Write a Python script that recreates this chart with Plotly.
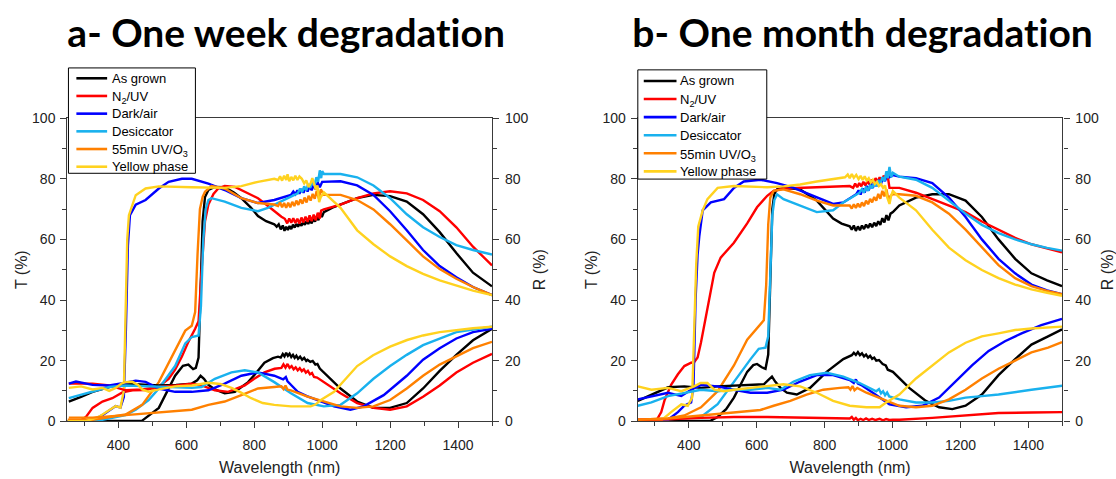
import plotly.graph_objects as go

# ---------------- DATA (wavelength nm, percent) ----------------
SERIES = ["As grown", "N<sub>2</sub>/UV", "Dark/air", "Desiccator",
          "55min UV/O<sub>3</sub>", "Yellow phase"]
TITLES = ["a- One week degradation", "b- One month degradation"]
X_TITLE = "Wavelength (nm)"
YT_TITLE = "T (%)"
YR_TITLE = "R (%)"

# ---- panel a : one week ----
a_T_asgrown = [(250,0),(470,0.2),(519,4.4),(545,10),(567,15),(590,18.3),(606,18.7),(620,17.2),(628,17.6),(636,21),(642,45),(648,66),(655,74),(665,76.3),(684,77.3),(713,77.2),(740,75.5),(762,73.6),(790,70.5),(811,67.7),(835,66),(859,65),(866,64.2),(872,65),(878,63.3),(884,64.6),(889,62.8),(894,64.2),(899,63.1),(904,64.4),(909,63.4),(914,64.9),(919,63.9),(924,65.1),(929,64.2),(934,65.4),(939,64.5),(944,65.7),(949,64.8),(954,66),(959,65.1),(964,66.4),(969,65.3),(974,66.8),(979,65.9),(984,67.6),(989,66.3),(994,68.7),(999,67.4),(1005,69),(1030,70.5),(1054,71.5),(1103,73.6),(1151,74.7),(1200,74.3),(1249,72.5),(1297,68.3),(1346,62.4),(1395,55.5),(1444,49),(1500,44.5)]
a_R_asgrown = [(254,6.5),(290,8),(324,9.7),(373,11.3),(421,12.4),(470,12),(519,11.8),(570,12),(616,12.4),(632,13.5),(642,15),(652,14),(665,12),(684,10.5),(713,9.2),(743,9.7),(782,12.9),(806,16),(830,19.3),(855,20.8),(870,21.3),(878,21),(884,22.2),(889,21.4),(894,22.6),(899,21.6),(904,22.3),(909,21.2),(914,21.9),(919,20.9),(924,21.6),(929,20.6),(935,21.3),(941,20.3),(947,20.9),(953,19.9),(957,20.3),(965,19.6),(972,19.9),(980,18.7),(986,18.9),(993,17.4),(1005,16.1),(1054,10.8),(1103,6.5),(1151,4.4),(1200,4.4),(1249,6),(1297,10.8),(1346,16.6),(1395,21.9),(1444,26.7),(1500,30.5)]
a_T_n2uv = [(250,0),(290,0.3),(305,1.5),(324,4.4),(353,6.5),(382,7.6),(412,9.5),(441,10.2),(480,10.3),(519,11.5),(548,14),(567,17),(587,21.4),(606,26.2),(626,30.5),(636,33),(645,50),(655,66),(665,71.5),(680,75),(694,76.8),(713,77.6),(743,77.3),(772,75.7),(811,73.6),(835,71.5),(859,69.3),(880,67.5),(890,66.8),(897,65.3),(903,66.9),(909,65.5),(915,67),(921,65.4),(927,66.8),(933,65.2),(939,67.2),(945,65.6),(951,67.5),(957,65.8),(963,67.9),(969,66),(975,68.2),(981,66.3),(987,68.8),(993,66.9),(997,69.5),(1005,69.9),(1054,71.5),(1103,73.6),(1151,75.2),(1200,75.9),(1249,75.2),(1297,73),(1346,69.3),(1395,64),(1444,57.6),(1500,51.4)]
a_R_n2uv = [(254,12.4),(324,12.4),(373,11.8),(421,10.2),(470,10.5),(519,11.3),(570,11.8),(616,12.4),(645,11.8),(665,11),(684,10.2),(723,9.7),(772,11.8),(800,14),(830,16.1),(860,17.3),(880,17.6),(886,18.8),(892,17.7),(898,18.9),(904,17.6),(910,18.2),(916,17.1),(922,17.8),(928,16.8),(934,17.5),(940,16.5),(946,17.1),(952,16),(958,16.6),(964,15.5),(970,15.9),(976,14.6),(985,14.4),(1005,12.9),(1054,9.2),(1103,6),(1151,4.4),(1200,3.8),(1249,4.9),(1297,8.1),(1346,11.8),(1395,16.1),(1444,19.3),(1500,22.2)]
a_T_darkair = [(250,0),(324,0.3),(353,2),(373,3.5),(392,5),(406,4.5),(416,8),(422,30),(428,58),(434,68),(451,71.5),(480,73),(499,74.7),(519,76.8),(548,79),(587,80),(616,80),(665,78.4),(713,76.3),(762,73.6),(811,72),(859,73),(908,74.7),(915,75.8),(921,74.9),(927,76.2),(933,75.1),(939,76.6),(945,75.4),(951,77),(957,75.8),(963,77.5),(969,76.2),(975,78),(981,76.5),(987,78.8),(993,77.2),(1000,79),(1054,79.2),(1103,77.8),(1151,74.7),(1200,69.3),(1249,63),(1297,56.5),(1346,51.2),(1395,47.5),(1444,44.3),(1500,41.6)]
a_R_darkair = [(254,12.4),(275,13.1),(324,12),(373,11.8),(421,12.7),(451,13.4),(480,13),(519,10.8),(567,9.7),(616,9.7),(665,10.2),(713,12.4),(762,15),(811,16.1),(859,15),(885,13.8),(893,14.6),(898,13.2),(910,11.8),(928,9.7),(955,8.3),(986,7),(1035,4.9),(1083,3.8),(1122,4.9),(1181,8.6),(1249,15),(1297,20.3),(1346,24.1),(1395,27.3),(1444,29.4),(1500,30.5)]
a_T_desic = [(250,0),(353,0.5),(421,2),(451,3.8),(489,7),(519,10.8),(567,18.2),(597,25.7),(616,27.8),(636,28.3),(643,38),(650,60),(657,70),(665,73),(674,73.6),(713,72.5),(762,70.4),(811,69.3),(840,70.4),(889,73),(928,75.2),(935,76.8),(941,75.6),(947,77.5),(953,76.2),(959,78.3),(965,77),(971,79.2),(977,77.8),(983,80.5),(988,79),(993,82.8),(997,80.2),(1000,82.5),(1005,81.6),(1054,81.6),(1103,80.5),(1151,77.8),(1200,73.6),(1249,68.3),(1297,64),(1346,60.8),(1395,58.1),(1444,56.5),(1500,55)]
a_R_desic = [(254,7.6),(324,9.7),(373,11.3),(421,11.8),(519,11.3),(616,11),(645,11.3),(684,14),(733,16.1),(772,16.8),(811,16.1),(859,12.9),(908,9.2),(957,6),(1005,4.9),(1054,5.4),(1103,9.2),(1151,14),(1200,18.2),(1249,21.9),(1297,25.1),(1346,27.3),(1395,29.4),(1500,31.2)]
a_T_uvo3 = [(250,0.5),(324,0.5),(421,2.2),(470,5.4),(519,12.9),(567,23.5),(597,29.9),(616,31.5),(626,36),(633,55),(640,70),(648,74),(655,75.7),(674,77.6),(713,76.8),(762,73.6),(811,72),(859,71.5),(870,71),(876,72.2),(882,70.6),(888,72),(894,70.4),(900,72.1),(906,70.6),(912,72.4),(918,71),(924,72.8),(930,71.4),(936,73.2),(942,71.8),(948,73.8),(954,72.2),(960,74.4),(966,72.8),(972,75),(978,73.4),(984,76),(990,73.5),(996,76.5),(1005,74.7),(1054,74.7),(1103,73),(1151,69.9),(1200,65),(1249,59.7),(1297,54.4),(1346,50.2),(1395,47),(1444,44.3),(1500,41.6)]
a_R_uvo3 = [(254,1.2),(324,1.2),(421,2),(519,2.8),(616,3.8),(665,5.4),(713,6.5),(762,8.6),(811,10.8),(859,11.3),(880,11.5),(886,10.6),(892,11.8),(898,10.4),(908,10.2),(957,8.1),(1005,6.5),(1054,4.9),(1103,4.4),(1151,4.9),(1200,7),(1249,10.8),(1297,15),(1346,18.7),(1395,21.4),(1444,24.1),(1500,26.2)]
a_T_yellow = [(250,0),(305,0),(343,1.5),(373,3.5),(392,5),(406,4.5),(416,10),(421,35),(426,60),(431,68),(451,74.6),(480,76.8),(519,77.5),(616,77.2),(713,77),(762,77.6),(811,79),(859,80),(870,79.6),(876,80.8),(882,79.4),(888,81),(894,79.6),(898,81.5),(903,79.2),(909,80.6),(915,79.5),(921,81),(927,79.6),(933,80.8),(940,80),(947,78.5),(953,79.5),(960,77.3),(966,78.5),(971,80.2),(976,78),(981,76.5),(986,77.8),(991,72.3),(996,74),(1005,75.5),(1054,70.4),(1103,63),(1151,58.4),(1200,54.4),(1249,51.2),(1297,48.6),(1346,46.5),(1395,44.8),(1444,43.1),(1500,41.6)]
a_R_yellow = [(254,11),(290,11.5),(324,10.5),(353,11),(373,10),(392,11),(410,12.5),(421,12.9),(441,13),(458,12),(470,10.5),(489,9.7),(519,10.5),(567,11.5),(616,11.8),(665,12.7),(700,12.3),(733,11),(760,9.5),(791,7.6),(825,6),(859,5.4),(908,4.9),(966,4.9),(980,5.5),(996,7),(1035,9.7),(1070,14),(1103,18.2),(1150,21.8),(1200,24.6),(1250,26.8),(1297,28.3),(1346,29.4),(1395,30.1),(1444,30.7),(1500,31.2)]

# ---- panel b : one month ----
b_T_asgrown = [(250,0),(465,0.2),(485,1.4),(510,4),(533,7.8),(555,12.5),(572,16.3),(590,18.5),(601,18.9),(615,17.8),(626,17.3),(634,22),(640,50),(646,70),(652,75),(660,76.5),(679,77),(728,76.5),(777,72.8),(800,70),(825,66.9),(850,65.2),(874,64.3),(880,63.2),(886,64.6),(892,62.8),(898,64.3),(904,63),(910,64.6),(916,63.4),(922,64.9),(928,63.8),(934,65.2),(940,64),(946,65.5),(952,64.4),(958,66),(964,64.8),(970,67),(976,65.6),(982,68),(988,66.3),(994,68.5),(1001,69),(1020,71.2),(1069,73.8),(1117,74.9),(1166,74.9),(1215,72.8),(1263,67.4),(1312,60),(1361,53.6),(1409,48.8),(1455,46.5),(1499,44.6)]
b_R_asgrown = [(250,6.7),(290,8.8),(339,11.2),(387,11.5),(436,11),(485,11.5),(533,11.8),(582,12),(621,12.2),(633,13.5),(645,14.7),(655,13),(670,11),(689,9.4),(718,8.8),(757,11),(806,16.3),(855,20.5),(880,21.8),(886,22.6),(892,21.9),(898,22.8),(904,21.8),(910,22.4),(916,21.4),(922,22),(928,21),(934,21.6),(940,20.6),(946,21),(952,20),(960,20.2),(971,18.9),(980,18.4),(986,17),(1001,16.3),(1049,11),(1098,6.7),(1137,4.6),(1176,4),(1215,5.1),(1263,8.8),(1312,15.2),(1361,20.5),(1409,25.3),(1458,28),(1499,30.3)]
b_T_n2uv = [(250,0),(305,0.3),(319,3),(329,7),(348,12),(368,15.5),(387,18.2),(407,19.3),(416,19.5),(426,21),(436,26),(446,32),(455,38),(465,44),(475,49),(494,54),(533,58.9),(572,65.3),(601,70.6),(631,74.4),(650,76),(679,76.8),(728,77),(777,77),(825,77.2),(874,77.6),(884,77),(890,78.4),(896,77.2),(902,78.6),(908,77.5),(914,79),(920,77.8),(926,79.3),(932,78.2),(938,79.7),(944,78.6),(950,80.2),(956,79),(962,80.5),(968,79.4),(974,81),(980,80),(985,81.5),(991,77),(1020,77),(1069,75.4),(1117,73.3),(1166,71.2),(1215,69),(1263,65.9),(1312,63.2),(1361,60.5),(1409,58.4),(1455,57),(1499,55.7)]
b_R_n2uv = [(250,0.5),(339,0.6),(436,1.1),(533,1.4),(631,1.4),(728,1.2),(825,1.2),(874,0.9),(880,1.4),(886,0.5),(892,1.1),(898,0.3),(906,0.8),(914,0.4),(922,0.9),(930,0.4),(940,0.8),(950,0.4),(962,0.8),(972,0.3),(981,0.7),(991,0.4),(1001,0.5),(1020,0.5),(1117,1.1),(1215,1.9),(1312,2.7),(1409,2.9),(1499,3)]
b_T_darkair = [(250,0),(339,0.5),(368,3),(387,5.1),(407,6.2),(414,12),(420,40),(426,55),(431,61),(441,69.6),(465,72.2),(504,73.3),(533,77),(562,79.1),(611,79.7),(660,78.6),(709,77),(777,73.8),(825,71.7),(855,72.2),(893,74.9),(900,76.2),(906,74.8),(912,76.8),(918,75.4),(924,77.6),(930,76.2),(936,78.4),(942,77),(948,79),(954,77.6),(960,79.6),(966,78.3),(972,80.4),(978,79.2),(984,81.5),(991,80.5),(1001,81.2),(1020,80.7),(1069,80.2),(1117,78.6),(1166,73.8),(1215,67.4),(1263,60),(1312,53.6),(1361,48.8),(1409,45.1),(1455,43.2),(1499,41.9)]
b_R_darkair = [(250,7.2),(290,8.3),(339,9.4),(378,8.3),(407,10.4),(436,12),(485,11.5),(533,10.4),(582,9.4),(631,9.4),(679,10.4),(728,13.1),(777,15.2),(825,15.2),(874,13.6),(886,12.6),(892,13.8),(898,12.4),(910,11.8),(942,9.4),(991,5.6),(1040,4.6),(1088,5.1),(1137,7.8),(1186,13.1),(1234,18.4),(1283,23.2),(1331,26.4),(1380,29),(1438,31.7),(1499,33.8)]
b_T_desic = [(250,0),(436,1.4),(485,5.6),(533,13.1),(582,20.5),(606,23.9),(626,24.3),(634,28),(640,50),(646,68),(652,73),(660,74.9),(679,73.3),(728,71.2),(777,69),(825,69.6),(855,72.2),(903,75.4),(910,76.6),(916,75.4),(922,77.4),(928,76),(934,78),(940,76.8),(946,78.8),(952,77.5),(958,79.6),(964,78.2),(970,80.6),(976,79.2),(982,82.5),(986,80.2),(991,83.9),(996,80.5),(1001,82),(1020,80.7),(1069,79.7),(1117,77),(1166,72.8),(1215,68.5),(1263,64.8),(1312,62.1),(1361,60),(1409,58.4),(1455,57.2),(1499,56.3)]
b_R_desic = [(250,5.1),(290,6.2),(339,8.3),(387,9.4),(436,10.4),(485,9.9),(533,10.4),(582,10.4),(631,11),(670,10.4),(709,13.1),(757,15.2),(806,16),(855,14.7),(903,12.6),(952,9.9),(960,10.6),(966,9.2),(972,9.9),(978,8.6),(984,9.5),(990,8.2),(1001,7.8),(1020,7.2),(1069,6.2),(1117,6.2),(1166,6.7),(1215,7.8),(1263,8.3),(1312,8.8),(1409,10.4),(1499,11.7)]
b_T_uvo3 = [(250,0.5),(339,0.9),(387,1.9),(436,4.6),(485,9.9),(533,18.4),(572,26.9),(601,30.6),(621,33.3),(628,45),(634,65),(640,73.8),(650,76),(679,76.5),(728,74.9),(777,72.8),(825,71.2),(874,71.2),(880,70.2),(886,71.6),(892,70.4),(898,71.8),(904,70.6),(910,72.2),(916,71),(922,72.8),(928,71.6),(934,73.4),(940,72.2),(946,74),(952,72.8),(958,75),(964,73.4),(970,76),(976,74.2),(982,76.6),(988,73),(991,74),(1001,75),(1020,74.9),(1069,74.4),(1117,72.2),(1166,68.5),(1215,63.2),(1263,57.3),(1312,51.5),(1361,47.2),(1409,44.6),(1455,43),(1499,41.9)]
b_R_uvo3 = [(250,0.5),(339,0.9),(436,1.9),(533,3),(611,3.7),(650,5.1),(699,6.7),(747,8.8),(796,10.4),(845,11),(870,11.2),(876,10.4),(882,11.6),(888,10.2),(896,11),(923,9.4),(971,7.2),(1020,5.1),(1069,4.6),(1117,5.1),(1166,7.2),(1215,10.4),(1263,14.1),(1312,17.3),(1361,20),(1409,22.7),(1458,24.3),(1499,26.1)]
b_T_yellow = [(250,0),(319,0.3),(348,3),(378,5.6),(397,5.1),(410,7.8),(416,30),(422,52),(428,64.3),(441,69.6),(455,73.3),(485,77),(533,77.6),(631,77.2),(679,77.5),(728,78.1),(777,79.1),(825,80),(860,80.5),(868,81.4),(874,80.2),(880,81.6),(886,80.3),(893,81.3),(900,79.9),(906,81),(912,79.6),(918,80.8),(924,79.4),(930,80.2),(936,78.8),(942,79.7),(948,78.3),(954,79),(960,77.6),(966,78.2),(972,77),(978,77.8),(984,74),(991,71.7),(996,74.5),(1001,76),(1020,73.8),(1069,69.6),(1117,63.2),(1166,57.3),(1215,53.1),(1263,49.9),(1312,47.2),(1361,45.1),(1409,43.5),(1455,42.4),(1499,41.4)]
b_R_yellow = [(250,11.5),(290,10.4),(339,11),(378,9.9),(400,10.8),(416,11.5),(435,12.6),(455,12.6),(475,10.4),(504,9.9),(533,10.4),(582,11),(631,11.5),(679,12.2),(728,11.5),(777,9.4),(825,6.7),(874,5.1),(923,4.6),(962,4.6),(981,6.2),(1020,8.8),(1069,14.1),(1117,18.4),(1166,22.7),(1215,25.9),(1263,28),(1312,29),(1361,30.1),(1409,30.6),(1499,31.2)]

A_T = [a_T_asgrown, a_T_n2uv, a_T_darkair, a_T_desic, a_T_uvo3, a_T_yellow]
A_R = [a_R_asgrown, a_R_n2uv, a_R_darkair, a_R_desic, a_R_uvo3, a_R_yellow]
B_T = [b_T_asgrown, b_T_n2uv, b_T_darkair, b_T_desic, b_T_uvo3, b_T_yellow]
B_R = [b_R_asgrown, b_R_n2uv, b_R_darkair, b_R_desic, b_R_uvo3, b_R_yellow]

# ---------------- STYLE ----------------
W, H = 1116, 479
COLORS = ["#000000", "#FF0000", "#0000FF", "#19B1EE", "#FF8000", "#FFD21F"]
LW = 2.4
FONT = "Liberation Sans, Arial, sans-serif"
AX = "#3a3a3a"

def fx(p):
    return p / W

def fy(p):
    return 1 - p / H

fig = go.Figure()

panels = [
    dict(xa="x", yt="y", yr="y2", T=A_T, R=A_R, g="a",
         box=(69, 62, 197, 171), row0=72.7, drow=18.3, line=(77, 108), tx=111),
    dict(xa="x2", yt="y3", yr="y4", T=B_T, R=B_R, g="b",
         box=(643, 64, 773, 177), row0=75.5, drow=18.7, line=(649, 682), tx=684),
]
shapes = []
annotations = []
for p in panels:
    for i, name in enumerate(SERIES):
        tx = [v[0] for v in p["T"][i]]
        ty = [v[1] for v in p["T"][i]]
        fig.add_trace(go.Scatter(x=tx, y=ty, xaxis=p["xa"], yaxis=p["yt"], mode="lines",
                                 name=name + " (T)", legendgroup=p["g"] + str(i), showlegend=False,
                                 line=dict(color=COLORS[i], width=LW)))
    for i, name in enumerate(SERIES):
        rx = [v[0] for v in p["R"][i]]
        ry = [v[1] for v in p["R"][i]]
        fig.add_trace(go.Scatter(x=rx, y=ry, xaxis=p["xa"], yaxis=p["yr"], mode="lines",
                                 name=name + " (R)", legendgroup=p["g"] + str(i), showlegend=False,
                                 line=dict(color=COLORS[i], width=LW)))
    # legend box drawn like the original
    x0, y0, x1, y1 = p["box"]
    shapes.append(dict(type="rect", xref="paper", yref="paper", x0=fx(x0), x1=fx(x1),
                       y0=fy(y1), y1=fy(y0), line=dict(color="#000", width=1),
                       fillcolor="white", layer="above"))
    for i, name in enumerate(SERIES):
        yy = p["row0"] + i * p["drow"]
        shapes.append(dict(type="line", xref="paper", yref="paper",
                           x0=fx(p["line"][0]), x1=fx(p["line"][1]), y0=fy(yy), y1=fy(yy),
                           line=dict(color=COLORS[i], width=2.6), layer="above"))
        annotations.append(dict(text=name, x=fx(p["tx"]), y=fy(yy + (2 if "<sub>" in name else 0)),
                                xref="paper", yref="paper", xanchor="left", yanchor="middle",
                                showarrow=False, font=dict(family=FONT, size=13, color="#000")))

ydom = [fy(427.5), fy(114)]
xdomA = [fx(68), fx(496)]
xdomB = [fx(643), fx(1071)]

def xaxis(dom, anchor):
    return dict(domain=dom, anchor=anchor, range=[250, 1500], dtick=200, tick0=0,
                showline=True, linecolor=AX, linewidth=1.4, mirror=True,
                ticks="outside", ticklen=6, tickwidth=1.2, tickcolor=AX,
                minor=dict(ticks="outside", ticklen=4, dtick=100, tick0=0, tickcolor=AX, tickwidth=1.2),
                showgrid=False, zeroline=False, ticklabelstandoff=5,
                tickfont=dict(family=FONT, size=14, color="#222"),
                title=dict(text=X_TITLE, font=dict(family=FONT, size=16, color="#222"), standoff=9))

def yaxis(anchor, side, overlaying=None):
    d = dict(anchor=anchor, side=side, range=[0, 100], dtick=20,
             showline=True, linecolor=AX, linewidth=1.4,
             ticks="outside", ticklen=6, tickwidth=1.2, tickcolor=AX,
             minor=dict(ticks="outside", ticklen=4, dtick=10, tickcolor=AX, tickwidth=1.2),
             showgrid=False, zeroline=False,
             ticklabelstandoff=2 if side == "left" else 3,
             tickfont=dict(family=FONT, size=14, color="#222"),
             title=dict(text=YT_TITLE if side == "left" else YR_TITLE,
                        font=dict(family=FONT, size=16, color="#222"),
                        standoff=0 if side == "left" else 6))
    if overlaying:
        d["overlaying"] = overlaying
    else:
        d["domain"] = ydom
    return d

TITLE_FONT = dict(family="Lato, Carlito, sans-serif", size=39, color="#000", weight=700)
annotations += [
    dict(text=TITLES[0], x=fx(288), y=fy(25), xref="paper", yref="paper",
         xanchor="center", yanchor="middle", showarrow=False, font=TITLE_FONT),
    dict(text=TITLES[1], x=fx(870), y=fy(25), xref="paper", yref="paper",
         xanchor="center", yanchor="middle", showarrow=False, font=TITLE_FONT),
]

fig.update_layout(
    width=W, height=H, margin=dict(l=0, r=0, t=0, b=0),
    paper_bgcolor="white", plot_bgcolor="white", showlegend=False,
    xaxis=xaxis(xdomA, "y"), yaxis=yaxis("x", "left"), yaxis2=yaxis("x", "right", "y"),
    xaxis2=xaxis(xdomB, "y3"), yaxis3=yaxis("x2", "left"), yaxis4=yaxis("x2", "right", "y3"),
    shapes=shapes, annotations=annotations,
)

POST = ("document.body.style.margin='0';"
        "document.querySelectorAll('.annotation-text').forEach(function(e){"
        "e.style.fontVariantLigatures='none';});")

fig.write_html("out.html", post_script=POST, config={"displayModeBar": False})
